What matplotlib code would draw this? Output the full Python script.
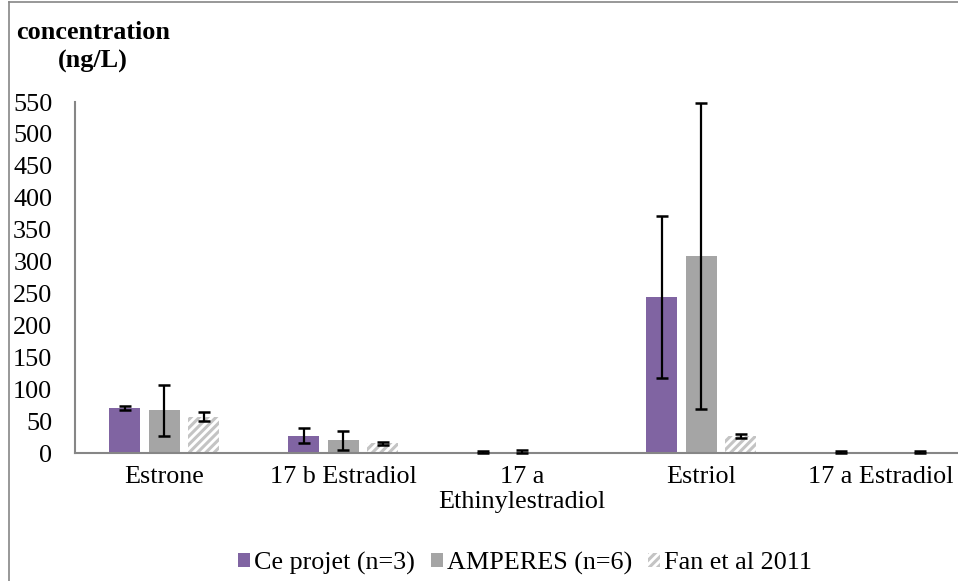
import numpy as np
import matplotlib
matplotlib.use("Agg")
import matplotlib.pyplot as plt
from matplotlib.lines import Line2D
from matplotlib.patches import Patch

# values (ng/L)
categories = ["Estrone", "17 b Estradiol", "17 a\nEthinylestradiol", "Estriol", "17 a Estradiol"]
series_names = ["Ce projet (n=3)", "AMPERES (n=6)", "Fan et al 2011"]
ce_projet = [70, 27, 2, 244, 2]
ce_projet_err = [3, 12, 1.5, 127, 1.5]
amperes = [67, 20, 2, 309, np.nan]
amperes_err = [40, 15, 2.5, 240, np.nan]
fan = [57, 15, np.nan, 26, 1.5]
fan_err = [7, 3, np.nan, 3, 1.5]
y_ticks = list(range(0, 551, 50))

plt.rcParams["font.family"] = ["Liberation Serif", "DejaVu Serif"]
plt.rcParams["hatch.linewidth"] = 2.2
FS = 18.8
HATCH_COLOR = "#C4C4C4"

fig = plt.figure(figsize=(9.58, 5.81), dpi=100)
ax = fig.add_axes([74.5 / 958, 0.2203, 895.5 / 958, 0.6041])

x = np.arange(len(categories))
step = 39.5 / 179
width = 31 / 179
styles = [
    dict(color="#8064A2"),
    dict(color="#A5A5A5"),
    dict(facecolor="white", edgecolor=HATCH_COLOR, hatch="////", linewidth=0),
]
values = [ce_projet, amperes, fan]
errors = [ce_projet_err, amperes_err, fan_err]

for i, (vals, errs, st) in enumerate(zip(values, errors, styles)):
    pos = x + (i - 1) * step
    ax.bar(pos, vals, width=width, zorder=2, **st)
    ax.errorbar(pos, vals, yerr=errs, fmt="none", ecolor="black",
                elinewidth=1.6, capsize=4.3, capthick=1.8, zorder=3, clip_on=False)

ax.set_xlim(-0.5, len(categories) - 0.5)
ax.set_ylim(0, 550)
ax.set_yticks(y_ticks)
ax.set_xticks(x)
ax.set_xticklabels(categories, fontsize=FS, linespacing=1.2)
ax.tick_params(axis="y", length=0, pad=16, labelsize=FS)
ax.tick_params(axis="x", length=0, pad=9)
for s in ["top", "right"]:
    ax.spines[s].set_visible(False)
for s in ["left", "bottom"]:
    ax.spines[s].set_color("#868686")
    ax.spines[s].set_linewidth(1.5)

fig.text(93 / 958, 1 - 47 / 581, "concentration\n(ng/L)", ha="center", va="center",
         fontsize=FS, fontweight="bold", linespacing=1.35)

handles = [
    Patch(facecolor="#8064A2", edgecolor="none"),
    Patch(facecolor="#A5A5A5", edgecolor="none"),
    Patch(facecolor="white", edgecolor=HATCH_COLOR, hatch="////", linewidth=0),
]
fig.legend(handles, series_names, loc="center", bbox_to_anchor=(525 / 958, 18 / 581),
           ncol=3, frameon=False, fontsize=FS, handlelength=0.46, handleheight=0.46,
           handletextpad=0.15, columnspacing=0.6, borderaxespad=0)

# chart area border (left and top edges visible in the crop)
fig.add_artist(Line2D([8.5 / 958, 8.5 / 958], [0, 1 - 2 / 581], color="#868686", lw=1.2))
fig.add_artist(Line2D([8.5 / 958, 1], [1 - 2 / 581, 1 - 2 / 581], color="#868686", lw=1.2))

fig.savefig("out.png", dpi=100)
